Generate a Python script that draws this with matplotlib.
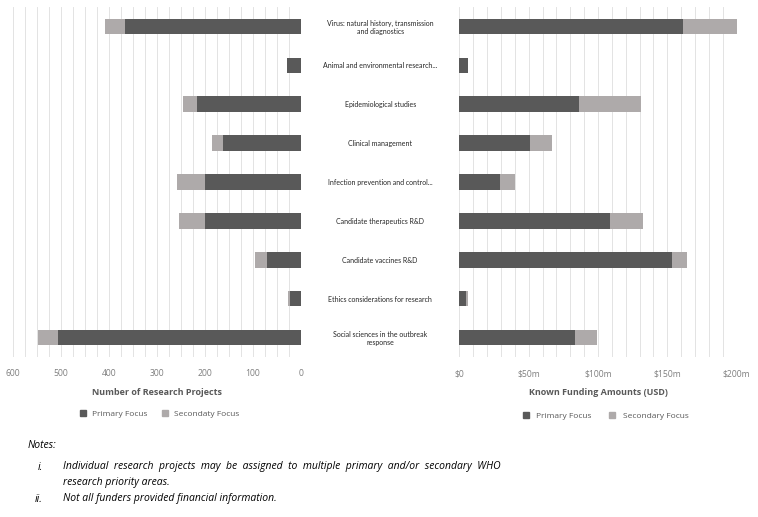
import matplotlib.pyplot as plt
from matplotlib.lines import Line2D

plt.rcParams['font.family'] = ['Open Sans', 'DejaVu Sans']

# WHO research priority areas (top to bottom)
categories = ['Virus: natural history, transmission\nand diagnostics',
              'Animal and environmental research...',
              'Epidemiological studies',
              'Clinical management',
              'Infection prevention and control...',
              'Candidate therapeutics R&D',
              'Candidate vaccines R&D',
              'Ethics considerations for research',
              'Social sciences in the outbreak\nresponse']

# number of research projects
projects_primary = [367, 30, 216, 163, 200, 201, 70, 22, 506]
projects_secondary = [41, 0, 30, 22, 58, 53, 26, 5, 43]

# known funding, USD millions
funding_primary = [161, 6.5, 86, 51, 29.3, 108.7, 153.4, 4.8, 83.4]
funding_secondary = [39.7, 0, 45, 16, 11.1, 23.8, 10.6, 1.2, 15.9]

funding_ticks = [0, 50, 100, 150, 200]
funding_labels = ['\\$0', '\\$50m', '\\$100m', '\\$150m', '\\$200m']

dark = '#595959'
light = '#aeaaaa'
grid = '#e3e3e3'
txt = '#595959'
tick_txt = '#7f7f7f'

W, H = 758, 517
fig = plt.figure(figsize=(W / 100, H / 100), dpi=100)

def px_axes(x0, x1, y0, y1):
    return fig.add_axes([x0 / W, 1 - y1 / H, (x1 - x0) / W, (y1 - y0) / H])

ax1 = px_axes(13.3, 301, 7, 357)
ax2 = px_axes(459.3, 736.7, 7, 357)

y = list(range(len(categories)))
h = 0.4

# left panel: projects, reversed x
ax1.barh(y, projects_primary, height=h, color=dark, zorder=3)
ax1.barh(y, projects_secondary, left=projects_primary, height=h, color=light, zorder=3)
ax1.set_xlim(600, 0)
ax1.set_xticks(range(0, 601, 100))
ax1.set_xticks(range(0, 601, 25), minor=True)

# right panel: funding
ax2.barh(y, funding_primary, height=h, color=dark, zorder=3)
ax2.barh(y, funding_secondary, left=funding_primary, height=h, color=light, zorder=3)
ax2.set_xlim(0, 200)
ax2.set_xticks(funding_ticks)
ax2.set_xticklabels(funding_labels)
ax2.set_xticks(range(0, 201, 10), minor=True)

for ax in (ax1, ax2):
    ax.set_ylim(len(categories) - 0.5, -0.5)
    ax.grid(axis='x', which='both', color=grid, linewidth=0.7, zorder=0)
    for s in ax.spines.values():
        s.set_visible(False)
    ax.tick_params(axis='x', which='both', length=0, labelsize=6.2, labelcolor=tick_txt, pad=9)

ax1.set_yticks([])
ax2.set_yticks(y)
ax2.set_yticklabels(categories, fontsize=5.0, color='#262626', ha='center',
                    multialignment='center', family=['Lato', 'DejaVu Sans'])
ax2.tick_params(axis='y', length=0, pad=57)

ax1.set_xlabel('Number of Research Projects', fontsize=6.5, fontweight='bold',
               color=txt, labelpad=7)
ax2.set_xlabel('Known Funding Amounts (USD)', fontsize=6.5, fontweight='bold',
               color=txt, labelpad=7)

def sq(c):
    return Line2D([], [], marker='s', linestyle='none', markersize=4,
                  markerfacecolor=c, markeredgecolor=c)

fig.legend([sq(dark), sq(light)], ['Primary Focus', 'Secondaty Focus'],
           loc='center', bbox_to_anchor=(157 / W, 1 - 414 / H), ncol=2,
           frameon=False, fontsize=6.0, labelcolor=txt, handletextpad=0.0,
           columnspacing=1.2, borderpad=0)
fig.legend([sq(dark), sq(light)], ['Primary Focus', 'Secondary Focus'],
           loc='center', bbox_to_anchor=(603 / W, 1 - 416 / H), ncol=2,
           frameon=False, fontsize=6.0, labelcolor=txt, handletextpad=0.3,
           columnspacing=1.4, borderpad=0)

# notes
nfs = 7.5
fig.text(28 / W, 1 - 445 / H, 'Notes:', fontsize=nfs, style='italic', va='center')
fig.text(43 / W, 1 - 467 / H, 'i.', fontsize=nfs, style='italic', va='center', ha='right')
fig.text(63 / W, 1 - 467 / H,
         'Individual  research  projects  may  be  assigned  to  multiple  primary  and/or  secondary  WHO',
         fontsize=nfs, style='italic', va='center')
fig.text(63 / W, 1 - 482 / H, 'research priority areas.', fontsize=nfs, style='italic', va='center')
fig.text(43 / W, 1 - 499 / H, 'ii.', fontsize=nfs, style='italic', va='center', ha='right')
fig.text(63 / W, 1 - 499 / H, 'Not all funders provided financial information.',
         fontsize=nfs, style='italic', va='center')

fig.savefig('out.png', dpi=100)
